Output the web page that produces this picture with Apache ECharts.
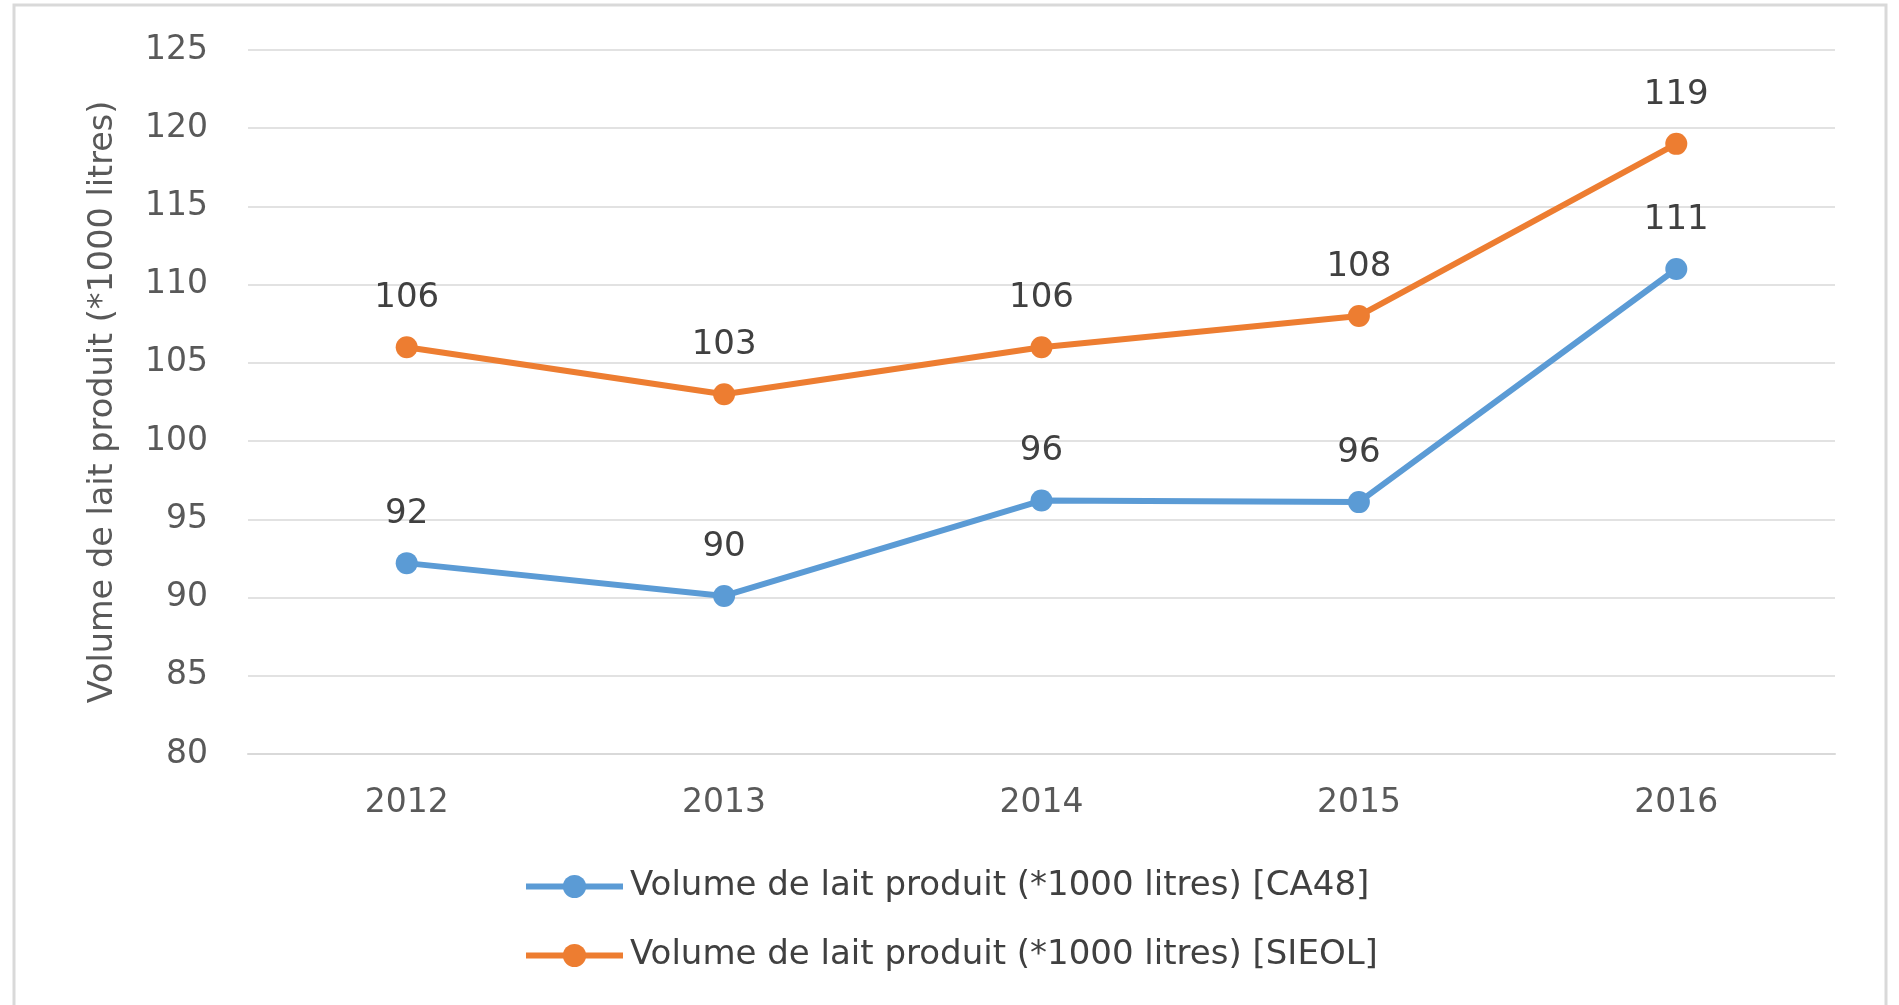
<!DOCTYPE html>
<html>
<head>
<meta charset="utf-8">
<script src="https://cdn.jsdelivr.net/npm/echarts@6/dist/echarts.min.js"></script>
<style>
  html, body { margin: 0; padding: 0; background: #fff; }
  #chart { width: 1899px; height: 1005px; }
</style>
</head>
<body>
<div id="chart"></div>
<script>
const years = ['2012', '2013', '2014', '2015', '2016'];
const ca48 = [92.2, 90.1, 96.2, 96.1, 111.0];
const sieol = [106, 103, 106, 108, 119];
const seriesNames = [
  'Volume de lait produit (*1000 litres) [CA48]',
  'Volume de lait produit (*1000 litres) [SIEOL]'
];
const yName = 'Volume de lait produit (*1000 litres)';

const font = 'DejaVu Sans';
const chart = echarts.init(document.getElementById('chart'), null, { renderer: 'canvas' });

function lineSeries(name, data, color) {
  return {
    name: name,
    type: 'line',
    data: data,
    symbol: 'circle',
    symbolSize: 22,
    lineStyle: { color: color, width: 6 },
    itemStyle: { color: color },
    label: {
      show: true,
      position: 'top',
      distance: 21,
      fontFamily: font,
      fontSize: 34,
      color: '#404040',
      formatter: p => Math.round(p.value)
    },
    animation: false
  };
}

chart.setOption({
  backgroundColor: '#fff',
  graphic: [{
    type: 'rect',
    shape: { x: 14, y: 5, width: 1872, height: 1010 },
    style: { fill: 'none', stroke: '#d9d9d9', lineWidth: 3 },
    silent: true
  }],
  grid: { left: 248, right: 64, top: 50, bottom: 251 },
  legend: {
    orient: 'vertical',
    left: 518,
    top: 861,
    itemWidth: 97,
    itemHeight: 29,
    itemGap: 28,
    lineStyle: { width: 6 },
    textStyle: { fontFamily: font, fontSize: 34, color: '#404040', lineHeight: 41, padding: [0, 0, 0, 2] },
    data: seriesNames
  },
  xAxis: {
    type: 'category',
    data: years,
    boundaryGap: true,
    axisLine: { lineStyle: { color: '#d9d9d9', width: 2 } },
    axisTick: { show: false },
    axisLabel: { fontFamily: font, fontSize: 33, color: '#595959', margin: 33 }
  },
  yAxis: {
    type: 'value',
    min: 80,
    max: 125,
    interval: 5,
    name: yName,
    nameLocation: 'middle',
    nameGap: 128,
    nameRotate: 90,
    nameTextStyle: { fontFamily: font, fontSize: 33.5, color: '#595959' },
    axisLine: { show: false },
    axisTick: { show: false },
    axisLabel: { fontFamily: font, fontSize: 33, color: '#595959', margin: 40 },
    splitLine: { lineStyle: { color: '#d9d9d9', width: 1.5 } }
  },
  series: [
    lineSeries(seriesNames[0], ca48, '#5B9BD5'),
    lineSeries(seriesNames[1], sieol, '#ED7D31')
  ]
});
</script>
</body>
</html>
